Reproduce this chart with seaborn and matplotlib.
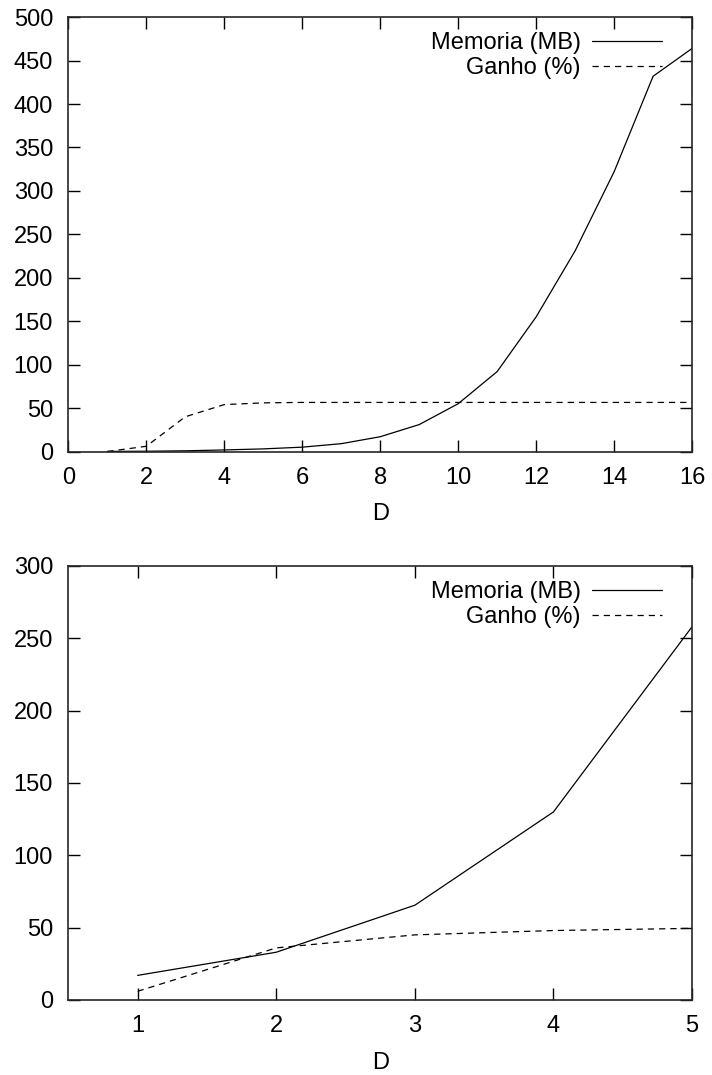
import pandas as pd
import seaborn as sns
import matplotlib
matplotlib.use("Agg")
import matplotlib.pyplot as plt

# dados do gráfico de cima (D = 1..16)
d_cima = list(range(1, 17))
memoria_cima = [0.1, 0.3, 0.8, 1.8, 3, 5, 9, 17, 31, 55, 92, 155, 231, 322, 432, 464]
ganho_cima = [0, 6, 40, 54, 56, 56.5, 56.5, 56.5, 56.5, 56.5, 56.5, 56.5, 56.5, 56.5, 56.5, 56.5]

# dados do gráfico de baixo (D = 1..5)
d_baixo = [1, 2, 3, 4, 5]
memoria_baixo = [17, 33, 65.5, 130, 258]
ganho_baixo = [6, 36, 45, 48, 49.5]

sns.set_style("ticks")
plt.rcParams["font.family"] = ["Liberation Sans", "DejaVu Sans"]
plt.rcParams["text.color"] = "black"
plt.rcParams["xtick.color"] = "black"
plt.rcParams["ytick.color"] = "black"
plt.rcParams["axes.labelcolor"] = "black"

fig = plt.figure(figsize=(7.12, 10.75), dpi=100)
ax1 = fig.add_axes([0.096, 0.580, 0.876, 0.404])
ax2 = fig.add_axes([0.096, 0.0698, 0.876, 0.4037])


def desenha(ax, d, mem, ganho, xlim, ylim, xticks, yticks):
    tabela = pd.DataFrame({"D": d, "Memoria (MB)": mem, "Ganho (%)": ganho})
    sns.lineplot(data=tabela, x="D", y="Memoria (MB)", ax=ax, color="black",
                 lw=0.9, label="Memoria (MB)")
    sns.lineplot(data=tabela, x="D", y="Ganho (%)", ax=ax, color="black",
                 lw=0.9, label="Ganho (%)")
    ax.lines[1].set_dashes([5, 4])
    ax.set_xlim(*xlim)
    ax.set_ylim(*ylim)
    ax.set_xticks(xticks)
    ax.set_yticks(yticks)
    ax.set_xlabel("D", fontsize=17, labelpad=10.5)
    ax.set_ylabel("")
    ax.tick_params(direction="in", length=8.5, width=1, top=True, right=True,
                   labelsize=17)
    ax.tick_params(axis="x", pad=11)
    ax.tick_params(axis="y", pad=11)
    for s in ax.spines.values():
        s.set_visible(True)
        s.set_linewidth(1.2)
    leg = ax.legend(loc="upper right", bbox_to_anchor=(0.967, 0.987),
                    frameon=False, markerfirst=False, fontsize=17,
                    handlelength=2.95, handletextpad=0.5,
                    labelspacing=0.13, borderaxespad=0)
    leg.get_lines()[1].set_dashes([5, 4])


desenha(ax1, d_cima, memoria_cima, ganho_cima, (0, 16), (0, 500),
        range(0, 17, 2), range(0, 501, 50))
desenha(ax2, d_baixo, memoria_baixo, ganho_baixo, (0.5, 5), (0, 300),
        [1, 2, 3, 4, 5], range(0, 301, 50))

plt.savefig("out.png", dpi=100)
